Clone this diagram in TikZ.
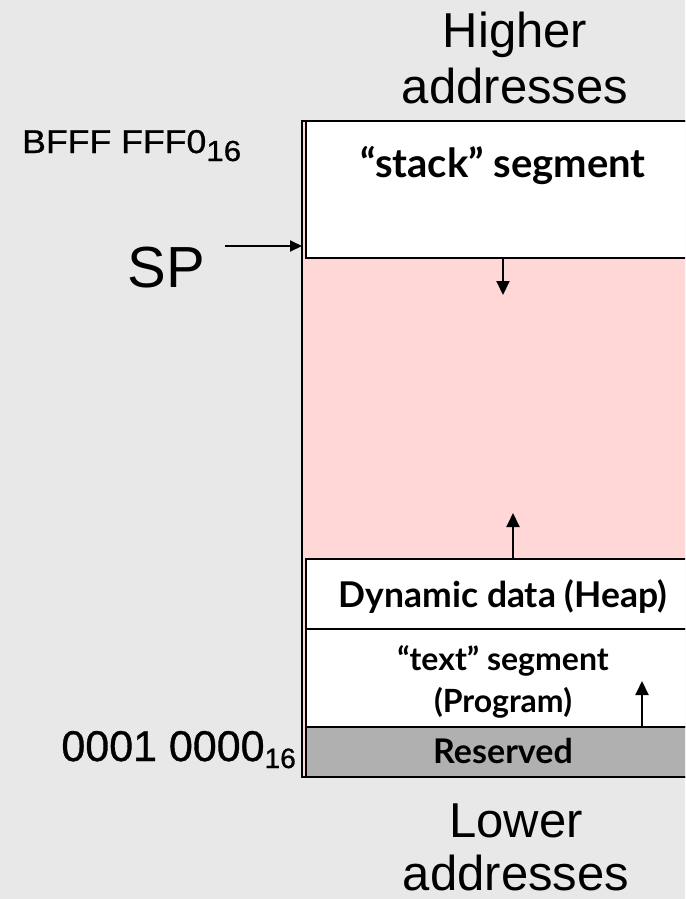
\documentclass[tikz,border=0pt]{standalone}
\usepackage{fontspec}
\setmainfont{Liberation Sans}
\newfontfamily\latofont{Lato}
\newfontfamily\addrfont[FakeStretch=1.08,FakeBold=0.8]{Liberation Sans}
\newfontfamily\addrfontb[FakeBold=0.8]{Liberation Sans}
\usetikzlibrary{arrows.meta}
\definecolor{bgc}{HTML}{E8E8E8}
\definecolor{pinkc}{HTML}{FFD7D7}
\definecolor{resc}{HTML}{B0B0B0}
\begin{document}
\begin{tikzpicture}[x=1pt,y=-1pt,
  seg/.style={draw=black,line width=2.5pt,minimum width=394pt,anchor=north west,inner sep=0pt,outer sep=0pt},
  boxtext/.style={inner sep=0pt,anchor=base,align=center},
  bigtext/.style={inner sep=0pt,anchor=base,align=center},
  addr/.style={inner sep=0pt,anchor=base west},
  arr/.style={line width=2pt,-{Triangle[width=13pt,length=14pt]}},
  sparr/.style={line width=2pt,-{Triangle[width=11pt,length=12pt]}}
]
\fill[bgc] (0,0) rectangle (685,899);
\useasboundingbox (0,0) rectangle (685,899);
\clip (0,0) rectangle (685,899);
% outer memory block
\node[draw=black,line width=2pt,fill=pinkc,anchor=north west,inner sep=0pt,outer sep=0pt,
      minimum width=420pt,minimum height=656pt] (mem) at (302,121) {};
% segments
\node[seg,fill=white,minimum height=137pt] (stack) at (306,121) {};
\node[seg,fill=white,minimum height=70pt] (heap) at (306,559) {};
\node[seg,fill=white,minimum height=98pt] (textseg) at (306,629) {};
\node[seg,fill=resc,minimum height=50pt] (res) at (306,727) {};
% segment texts
\node[boxtext,font=\latofont\bfseries\fontsize{40}{44}\selectfont] (stacklbl) at (503,177) {“stack” segment};
\node[boxtext,font=\latofont\bfseries\fontsize{35.5}{40}\selectfont] (heaplbl) at (503,607) {Dynamic data (Heap)};
\node[boxtext,font=\latofont\bfseries\fontsize{32}{42}\selectfont] (textlbl) at (503,712) {“text” segment\\(Program)};
\node[boxtext,font=\latofont\bfseries\fontsize{34}{36}\selectfont] (reslbl) at (503,763) {Reserved};
% growth arrows
\coordinate (stackend) at (503,295);
\coordinate (heapend) at (513,513);
\coordinate (textend) at (642,681);
\draw[arr] (stack.south -| stackend) -- (stackend);
\draw[arr] (heap.north -| heapend) -- (heapend);
\draw[arr] (textseg.south -| textend) -- (textend);
% titles
\node[bigtext,font=\fontsize{49}{56}\selectfont] (high) at (515,103) {Higher\\addresses};
\node[bigtext,font=\fontsize{49}{53}\selectfont] (low) at (516,890) {Lower\\addresses};
% stack pointer
\node[bigtext,font=\fontsize{58}{60}\selectfont] (sp) at (166,287) {SP};
\coordinate (spstart) at (225,246);
\draw[sparr] (spstart) -- (spstart -| mem.west);
% address labels
\node[addr,font=\addrfont\fontsize{33}{36}\selectfont] (hiaddr) at (22,153) {BFFF FFF0\raisebox{-8pt}{\fontsize{29}{30}\selectfont 16}};
\node[addr,font=\addrfontb\fontsize{43}{46}\selectfont,anchor=base east] (loaddr) at (296,761) {0001 0000\raisebox{-7pt}{\fontsize{28}{30}\selectfont 16}};
\end{tikzpicture}
\end{document}
